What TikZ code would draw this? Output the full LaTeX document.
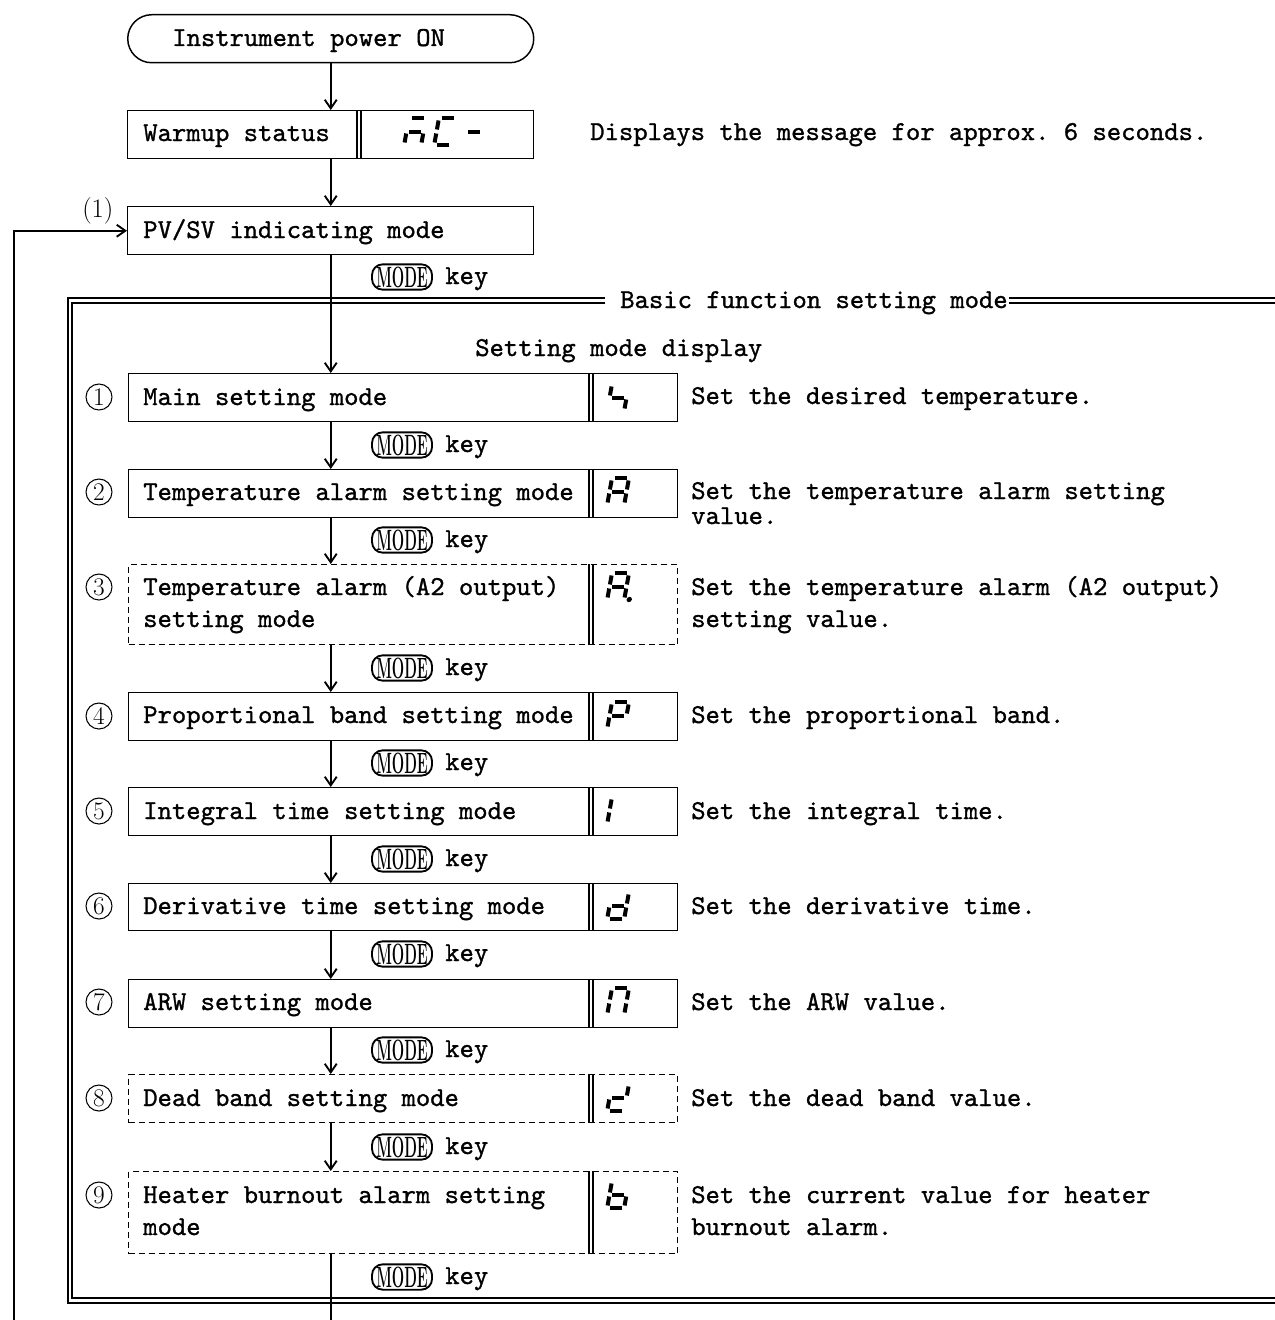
\documentclass[tikz,border=0pt]{standalone}
\usepackage{fontspec}
\setmonofont{lmmono10-regular}[Extension=.otf,RawFeature={embolden=1.1}]
\usepackage{graphicx}
\usetikzlibrary{arrows.meta}
\newcommand\tfont{\ttfamily\fontsize{20.5}{24}\selectfont}
\newcommand\SGa{\draw[seg] (2.5,0)--(14.5,0);}
\newcommand\SGb{\draw[seg] (17,2.5)--(17,11.5);}
\newcommand\SGc{\draw[seg] (17,15.5)--(17,24.5);}
\newcommand\SGd{\draw[seg] (2.5,27)--(14.5,27);}
\newcommand\SGe{\draw[seg] (0,15.5)--(0,24.5);}
\newcommand\SGf{\draw[seg] (0,2.5)--(0,11.5);}
\newcommand\SGg{\draw[seg] (2.5,13.5)--(14.5,13.5);}
\newcommand\SGp{\fill (22,26.5) circle (2pt);}
\newcommand\sevseg[3]{\begin{scope}[shift={(#1,#2)},xslant=0.18]\foreach \s in {#3}{\csname SG\s\endcsname}\end{scope}}
\newcommand\modekey{\scalebox{0.5}[1]{\bfseries MODE}}
\begin{document}
\begin{tikzpicture}[x=0.75pt,y=-0.75pt,
  txt/.style={font=\tfont,anchor=base west,inner sep=0},
  seg/.style={line width=3pt},
  bx/.style={draw,line width=1.1pt,anchor=north west,inner sep=0},
  rowb/.style={bx,minimum width=411.75pt},
  dvl/.style={line width=0.9pt},
  dsh/.style={dash pattern=on 4.5pt off 3pt},
  conn/.style={line width=1.7pt},
  arr/.style={conn,-{Straight Barb[length=6.5pt,width=9pt,line width=1.4pt]}},
  frm/.style={line width=0.9pt},
  mk/.style={draw,line width=1.4pt,rounded corners=8pt,minimum width=45pt,minimum height=19pt,inner sep=0,font=\rmfamily\fontsize{22}{22}\selectfont},
  cn/.style={draw,circle,line width=0.8pt,minimum size=19.5pt,inner sep=0,font=\rmfamily\fontsize{19}{19}\selectfont},
]
\useasboundingbox (0,0) rectangle (1274,1320);

% top part
\node[bx,rounded corners=18pt,minimum width=304.5pt,minimum height=36pt] (pwr) at (127,14) {};
\node[txt] (pwrt) at (172,46) {Instrument power ON};
\node[bx,minimum width=304.5pt,minimum height=36pt] (warm) at (127,110) {};
\coordinate (wd1) at (357,0);
\coordinate (wd2) at (361,0);
\draw[dvl] (wd1 |- warm.north) -- (wd1 |- warm.south) (wd2 |- warm.north) -- (wd2 |- warm.south);
\node[txt] (warmt) at (143,141) {Warmup status};
\sevseg{409}{118}{a,g,c,e}
\sevseg{439}{118}{a,f,e,d}
\sevseg{468}{118}{g}
\node[txt] (warmd) at (590,140) {Displays the message for approx. 6 seconds.};
\node[bx,minimum width=304.5pt,minimum height=36pt] (pv) at (127,206) {};
\node[txt] (pvt) at (143,238) {PV/SV indicating mode};
\node[anchor=base west,inner sep=0,font=\rmfamily\fontsize{20}{20}\selectfont] (lbl1) at (82,217) {(1)};

\draw[arr] (pwr) -- (warm);
\draw[arr] (warm) -- (pv);

% frame
\node[txt] (title) at (620,308) {Basic function setting mode};
\draw[frm] (605,298) -- (68,298) -- (68,1303) -- (1300,1303);
\draw[frm] (605,303) -- (72,303) -- (72,1298) -- (1300,1298);
\draw[frm] (1009,298) -- (1300,298) (1009,303) -- (1300,303);
\node[txt] (smd) at (475,356) {Setting mode display};

% rows
\coordinate (dv1) at (589,0);
\coordinate (dv2) at (593,0);
\foreach \i/\t/\h/\st in {1/373/48/solid,2/469/48/solid,3/564/80/dsh,4/692/48/solid,5/787/48/solid,6/883/47/solid,7/979/48/solid,8/1074/48/dsh,9/1171/82/dsh}{
  \node[rowb,\st,minimum height=\h*0.75pt] (r\i) at (128,\t) {};
  \draw[dvl] (dv1 |- r\i.north) -- (dv1 |- r\i.south) (dv2 |- r\i.north) -- (dv2 |- r\i.south);
}

% row texts, numbers, displays, descriptions
\node[txt] (t1) at (143,405) {Main setting mode};
\node[cn] (n1) at (99,397) {1};
\sevseg{612}{384}{f,g,c}
\node[txt] (d1) at (691,404) {Set the desired temperature.};

\node[txt] (t2) at (143,500) {Temperature alarm setting mode};
\node[cn] (n2) at (99,492) {2};
\sevseg{612}{478}{a,b,c,e,f,g}
\node[txt] (d2) at (691,499) {Set the temperature alarm setting};
\node[txt] (d2b) at (691,524) {value.};

\node[txt] (t3) at (143,595) {Temperature alarm (A2 output)};
\node[txt] (t3b) at (143,627) {setting mode};
\node[cn] (n3) at (99,587) {3};
\sevseg{612}{573}{a,b,c,e,f,g,p}
\node[txt] (d3) at (691,595) {Set the temperature alarm (A2 output)};
\node[txt] (d3b) at (691,627) {setting value.};

\node[txt] (t4) at (143,723) {Proportional band setting mode};
\node[cn] (n4) at (99,716) {4};
\sevseg{612}{702}{a,b,e,f,g}
\node[txt] (d4) at (691,723) {Set the proportional band.};

\node[txt] (t5) at (143,819) {Integral time setting mode};
\node[cn] (n5) at (99,811) {5};
\sevseg{612}{797}{e,f}
\node[txt] (d5) at (691,819) {Set the integral time.};

\node[txt] (t6) at (143,914) {Derivative time setting mode};
\node[cn] (n6) at (99,906) {6};
\sevseg{612}{892}{b,c,d,e,g}
\node[txt] (d6) at (691,914) {Set the derivative time.};

\node[txt] (t7) at (143,1010) {ARW setting mode};
\node[cn] (n7) at (99,1002) {7};
\sevseg{612}{988}{a,b,c,e,f}
\node[txt] (d7) at (691,1010) {Set the ARW value.};

\node[txt] (t8) at (143,1106) {Dead band setting mode};
\node[cn] (n8) at (99,1098) {8};
\sevseg{612}{1084}{b,g,e,d}
\node[txt] (d8) at (691,1106) {Set the dead band value.};

\node[txt] (t9) at (143,1203) {Heater burnout alarm setting};
\node[txt] (t9b) at (143,1235) {mode};
\node[cn] (n9) at (99,1195) {9};
\sevseg{612}{1181}{f,g,e,c,d}
\node[txt] (d9) at (691,1203) {Set the current value for heater};
\node[txt] (d9b) at (691,1235) {burnout alarm.};

% MODE keys
\foreach \j/\y in {0/277,1/445,2/540,3/668,4/763,5/859,6/954,7/1050,8/1147,9/1277}{
  \node[mk] (k\j) at (402,\y) {\modekey};
  \node[txt] (kt\j) at (445,\y+7) {key};
}

% trunk connectors
\draw[arr] (pv) -- (r1.north -| pv.south);
\foreach \a/\b in {1/2,2/3,3/4,4/5,5/6,6/7,7/8,8/9}{
  \draw[arr] (r\a.south -| pv.south) -- (r\b.north -| pv.south);
}
\coordinate (botc) at (331,1330);
\draw[conn] (r9.south -| pv.south) -- (botc -| pv.south);
\coordinate (loopb) at (14,1330);
\draw[arr] (loopb) |- (pv.west);
\end{tikzpicture}
\end{document}
